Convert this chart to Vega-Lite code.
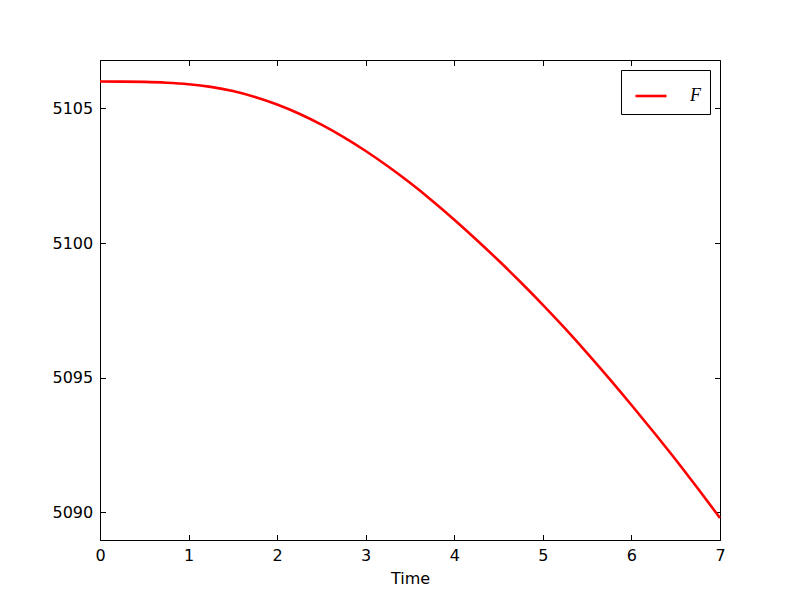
{
  "$schema": "https://vega.github.io/schema/vega-lite/v6.json",
  "autosize": "none",
  "width": 620,
  "height": 480,
  "padding": {"left": 100, "top": 60, "right": 80, "bottom": 60},
  "background": "white",
  "config": {
    "view": {"stroke": "black", "strokeWidth": 1},
    "axis": {
      "grid": false,
      "domainColor": "black",
      "domainWidth": 1,
      "tickColor": "black",
      "tickSize": -5.5,
      "tickWidth": 1,
      "labelFont": "DejaVu Sans",
      "labelFontSize": 16,
      "labelColor": "black",
      "labelPadding": 12.8,
      "labelFlush": false,
      "labelOverlap": false,
      "titleFont": "DejaVu Sans",
      "titleFontSize": 16,
      "titleFontWeight": "normal",
      "titleColor": "black"
    }
  },
  "data": {
    "values": [
      {"t": 0.0, "F": 5106.000},
      {"t": 0.25, "F": 5105.998},
      {"t": 0.5, "F": 5105.986},
      {"t": 0.75, "F": 5105.957},
      {"t": 1.0, "F": 5105.900},
      {"t": 1.25, "F": 5105.802},
      {"t": 1.5, "F": 5105.648},
      {"t": 1.75, "F": 5105.429},
      {"t": 2.0, "F": 5105.148},
      {"t": 2.25, "F": 5104.804},
      {"t": 2.5, "F": 5104.399},
      {"t": 2.75, "F": 5103.937},
      {"t": 3.0, "F": 5103.421},
      {"t": 3.25, "F": 5102.853},
      {"t": 3.5, "F": 5102.237},
      {"t": 3.75, "F": 5101.575},
      {"t": 4.0, "F": 5100.869},
      {"t": 4.25, "F": 5100.125},
      {"t": 4.5, "F": 5099.350},
      {"t": 4.75, "F": 5098.544},
      {"t": 5.0, "F": 5097.704},
      {"t": 5.25, "F": 5096.828},
      {"t": 5.5, "F": 5095.914},
      {"t": 5.75, "F": 5094.965},
      {"t": 6.0, "F": 5093.986},
      {"t": 6.25, "F": 5092.982},
      {"t": 6.5, "F": 5091.950},
      {"t": 6.75, "F": 5090.880},
      {"t": 7.0, "F": 5089.790}
    ]
  },
  "layer": [
    {
      "mark": {"type": "line", "strokeWidth": 2.6, "interpolate": "monotone"},
      "encoding": {
        "x": {
          "field": "t", "type": "quantitative",
          "scale": {"domain": [0, 7], "nice": false, "zero": false},
          "axis": {"title": "Time", "orient": "bottom", "values": [0,1,2,3,4,5,6,7], "titlePadding": 7}
        },
        "y": {
          "field": "F", "type": "quantitative",
          "scale": {"domain": [5088.97, 5106.8], "nice": false, "zero": false},
          "axis": {"title": null, "orient": "left", "values": [5090, 5095, 5100, 5105], "format": "d"}
        },
        "color": {
          "datum": "F",
          "type": "nominal",
          "scale": {"range": ["#ff0000"]},
          "legend": {
            "title": null,
            "orient": "none",
            "legendX": 521,
            "legendY": 10,
            "symbolType": "stroke",
            "symbolSize": 961,
            "symbolStrokeWidth": 2.6,
            "symbolOffset": 4,
            "labelOffset": 22,
            "labelFont": "Liberation Serif",
            "labelFontStyle": "italic",
            "labelFontSize": 18,
            "labelColor": "black",
            "padding": 9,
            "strokeColor": "black",
            "fillColor": "white"
          }
        }
      }
    },
    {
      "mark": {"type": "line", "opacity": 0},
      "encoding": {
        "x": {
          "field": "t", "type": "quantitative",
          "axis": {"title": null, "orient": "top", "labels": false, "domain": false, "values": [0,1,2,3,4,5,6,7]}
        },
        "y": {
          "field": "F", "type": "quantitative",
          "axis": {"title": null, "orient": "right", "labels": false, "domain": false, "values": [5090, 5095, 5100, 5105]}
        }
      }
    }
  ],
  "resolve": {"axis": {"x": "independent", "y": "independent"}}
}
